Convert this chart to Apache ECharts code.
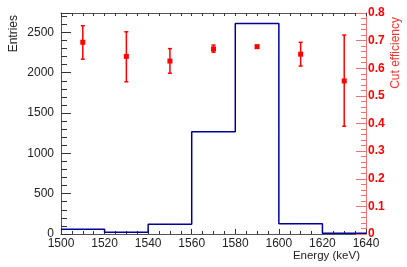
<!DOCTYPE html>
<html><head><meta charset="utf-8">
<script src="https://cdn.jsdelivr.net/npm/echarts@6/dist/echarts.min.js"></script>
<style>html,body{margin:0;padding:0;background:#fff}#c{width:407px;height:267px}</style>
</head><body><div id="c"></div>
<script>
// Histogram: bin lower edges and entries
const binEdges = [1500, 1520, 1540, 1560, 1580, 1600, 1620, 1640];
const entries = [58, 21, 120, 1268, 2610, 128, 9];
// Cut efficiency points
const effEnergy = [1510, 1530, 1550, 1570, 1590, 1610, 1630];
const effValue = [0.694, 0.643, 0.626, 0.670, 0.678, 0.651, 0.554];
const effLow = [0.633, 0.551, 0.582, 0.658, 0.673, 0.608, 0.390];
const effHigh = [0.754, 0.732, 0.671, 0.684, 0.683, 0.694, 0.720];

const histData = entries.map((v, i) => [binEdges[i], v]);
histData.push([binEdges[binEdges.length - 1], entries[entries.length - 1]]);
const effData = effEnergy.map((x, i) => [x, effValue[i], effLow[i], effHigh[i]]);

const font = 'Liberation Sans';
const chart = echarts.init(document.getElementById('c'));
chart.setOption({
  animation: false,
  grid: {left: 61, right: 41, top: 13, bottom: 33, containLabel: false, outerBoundsMode: 'none'},
  graphic: [
    {type: 'text', x: 360, y: 250, style: {text: 'Energy (keV)', font: '11.5px "Liberation Sans"', fill: '#222', align: 'right', verticalAlign: 'top'}},
    {type: 'text', x: 8, y: 15, rotation: Math.PI / 2, style: {text: 'Entries', font: '12px "Liberation Sans"', fill: '#222', align: 'right', verticalAlign: 'top'}},
    {type: 'text', x: 390, y: 17, rotation: Math.PI / 2, style: {text: 'Cut efficiency', font: '12px "Liberation Sans"', fill: '#ff3030', align: 'right', verticalAlign: 'top'}}
  ],
  xAxis: [{
    type: 'value', min: 1500, max: 1640, interval: 20, position: 'bottom',
    axisLine: {show: true, onZero: false, lineStyle: {color: '#555', width: 1}},
    axisTick: {show: true, inside: true, length: 5, lineStyle: {color: '#333'}},
    minorTick: {show: true, splitNumber: 4, length: 3, lineStyle: {color: '#333'}},
    axisLabel: {fontFamily: font, fontSize: 12, color: '#222', margin: 4, formatter: v => String(v)},
    splitLine: {show: false}
  }, {
    type: 'value', min: 1500, max: 1640, interval: 20, position: 'top',
    axisLine: {show: true, onZero: false, lineStyle: {color: '#555', width: 1}},
    axisTick: {show: true, inside: true, length: 3, lineStyle: {color: '#333'}},
    minorTick: {show: true, splitNumber: 4, length: 3, lineStyle: {color: '#333'}},
    axisLabel: {show: false}, splitLine: {show: false}
  }],
  yAxis: [{
    type: 'value', min: 0, max: 2740, interval: 500, position: 'left',
    axisLine: {show: true, onZero: false, lineStyle: {color: '#555', width: 1}},
    axisTick: {show: true, inside: true, length: 10, lineStyle: {color: '#333'}},
    minorTick: {show: true, splitNumber: 5, length: 6, lineStyle: {color: '#333'}},
    axisLabel: {fontFamily: font, fontSize: 12, color: '#222', margin: 7, showMaxLabel: false, formatter: v => String(v)},
    splitLine: {show: false}
  }, {
    type: 'value', min: 0, max: 0.8, interval: 0.1, position: 'right',
    axisLine: {show: true, onZero: false, lineStyle: {color: '#f07070', width: 1}},
    axisTick: {show: true, inside: true, length: 10, lineStyle: {color: '#f07070'}},
    minorTick: {show: true, splitNumber: 5, length: 5, lineStyle: {color: '#f07070'}},
    axisLabel: {fontFamily: font, fontSize: 12, fontWeight: 'bold', color: '#ff0000', margin: 2,
      formatter: v => (Math.round(v * 10) / 10).toString()},
    splitLine: {show: false}
  }],
  series: [{
    type: 'line', xAxisIndex: 0, yAxisIndex: 0, step: 'end', data: histData,
    symbol: 'none', lineStyle: {color: '#000099', width: 1.5}, z: 3
  }, {
    type: 'custom', xAxisIndex: 0, yAxisIndex: 1, data: effData, z: 5,
    renderItem: function (params, api) {
      const c = api.coord([api.value(0), api.value(1)]);
      const lo = api.coord([api.value(0), api.value(2)]);
      const hi = api.coord([api.value(0), api.value(3)]);
      const st = {stroke: '#ff0000', lineWidth: 1.5};
      return {type: 'group', children: [
        {type: 'line', shape: {x1: c[0], y1: lo[1], x2: c[0], y2: hi[1]}, style: st},
        {type: 'line', shape: {x1: c[0] - 2, y1: lo[1], x2: c[0] + 2, y2: lo[1]}, style: st},
        {type: 'line', shape: {x1: c[0] - 2, y1: hi[1], x2: c[0] + 2, y2: hi[1]}, style: st},
        {type: 'rect', shape: {x: c[0] - 2.5, y: c[1] - 2.5, width: 5, height: 5}, style: {fill: '#ff0000'}}
      ]};
    }
  }]
});
</script></body></html>
